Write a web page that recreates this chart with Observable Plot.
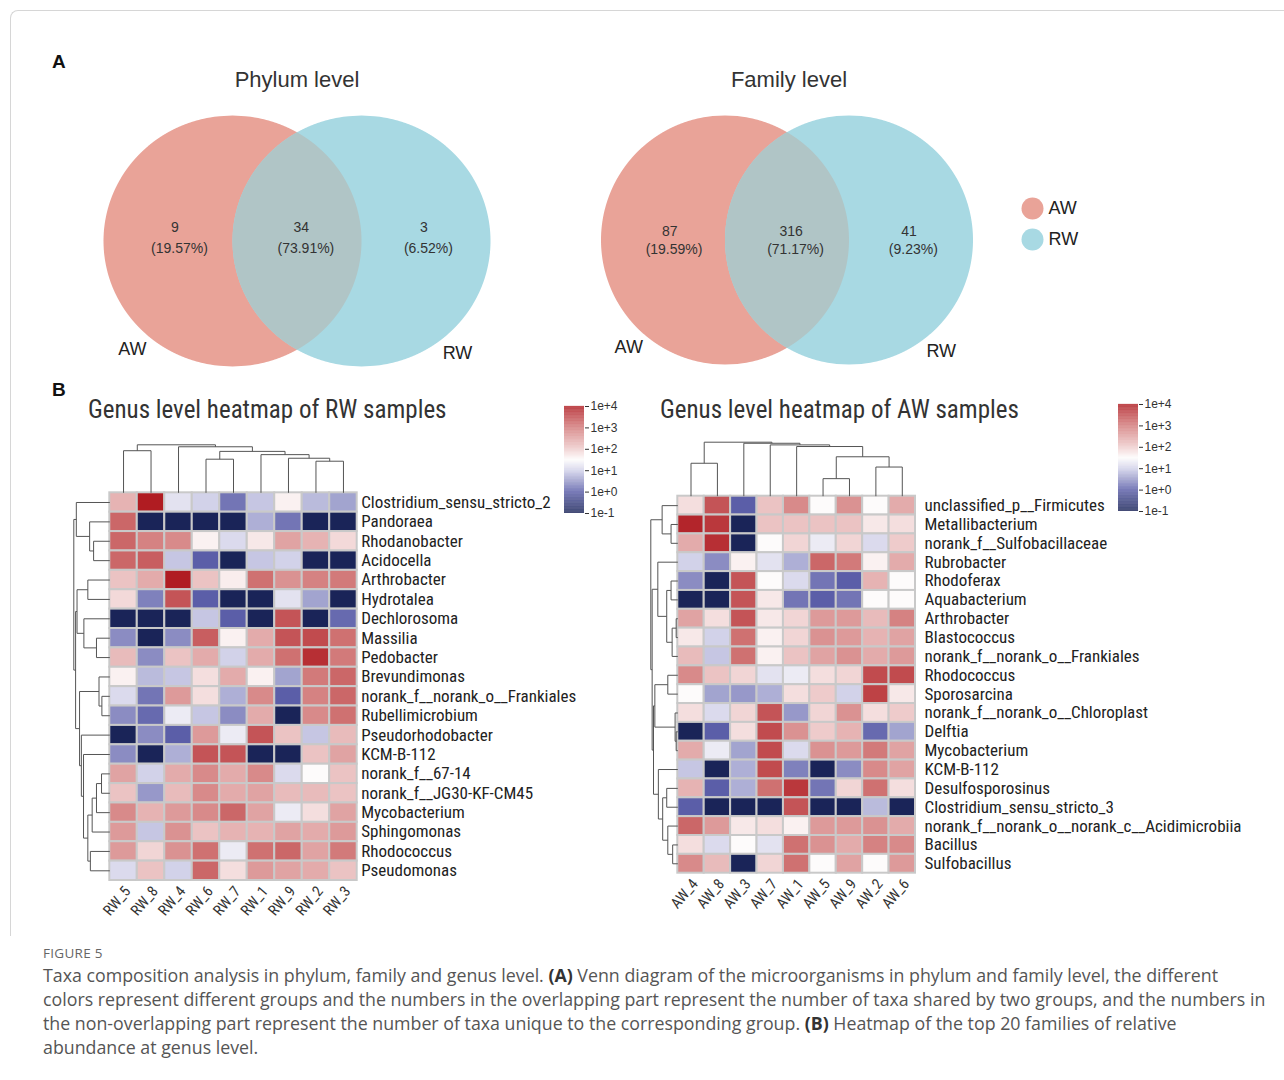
<!DOCTYPE html>
<html>
<head>
<meta charset="utf-8">
<script src="https://cdn.jsdelivr.net/npm/d3@7"></script>
<script src="https://cdn.jsdelivr.net/npm/@observablehq/plot@0.6"></script>
<style>
  body { margin: 0; background: #fff; font-family: "Liberation Sans", Arial, sans-serif; }
  #fig { position: relative; width: 1284px; height: 1080px; overflow: hidden; background: #fff; }
  .abs { position: absolute; }
  .frame { left: 10px; top: 10px; width: 1290px; height: 925px; border-top: 1px solid #d6d6d6; border-left: 1px solid #d6d6d6; border-top-left-radius: 8px; }
  .panel { font-weight: bold; font-size: 19px; color: #111; }
  .vtitle { font-size: 22px; color: #333; transform: translateX(-50%); white-space: nowrap; }
  .htitle { font-family: "Liberation Sans Narrow", "Roboto Condensed", "Liberation Sans", sans-serif; font-size: 25px; color: #333; white-space: nowrap; }
  .figlabel { font-family: "Open Sans", sans-serif; font-size: 13.5px; color: #666; letter-spacing: 0.3px; }
  .caption { font-family: "Open Sans", sans-serif; font-size: 17.8px; line-height: 24px; color: #555; white-space: nowrap; }
  .caption b { color: #333; }
</style>
</head>
<body>
<div id="fig"></div>
<script>
// ---------- Venn counts (AW only, shared, RW only) ----------
const vennGroups = ["AW", "RW"];
const vennColors = ["#e9a398", "#a8d9e3"];
const phylumCounts = [9, 34, 3];
const familyCounts = [87, 316, 41];

// ---------- Genus heatmaps: log10 relative abundance ----------
const rwSamples = ["RW_5", "RW_8", "RW_4", "RW_6", "RW_7", "RW_1", "RW_9", "RW_2", "RW_3"];
const rwGenera = [
  "Clostridium_sensu_stricto_2", "Pandoraea", "Rhodanobacter", "Acidocella", "Arthrobacter",
  "Hydrotalea", "Dechlorosoma", "Massilia", "Pedobacter", "Brevundimonas",
  "norank_f__norank_o__Frankiales", "Rubellimicrobium", "Pseudorhodobacter", "KCM-B-112", "norank_f__67-14",
  "norank_f__JG30-KF-CM45", "Mycobacterium", "Sphingomonas", "Rhodococcus", "Pseudomonas"
];
const rwLog10 = [
  [2.3, 4.0, 1.2, 1.0, 0.2, 0.9, 1.6, 0.8, 0.6],
  [3.2, -1, -1, -1, -1, 0.7, 0.2, -1, -1],
  [3.2, 2.9, 2.8, 1.6, 1.1, 1.7, 2.5, 2.3, 1.85],
  [3.2, 3.3, 0.9, 0.0, -1, 0.9, 1.0, -1, -1],
  [2.1, 2.4, 4.0, 2.1, 1.65, 3.1, 2.7, 2.9, 3.0],
  [1.85, 0.3, 3.4, 0.0, -1, -1, 1.2, 0.6, -1],
  [-1, -1, -1, 0.9, 0.0, -1, 3.4, -1, 0.1],
  [0.4, -1, 0.4, 3.3, 1.6, 2.4, 3.4, 3.5, 3.1],
  [2.2, 0.4, 2.1, 2.4, 1.0, 2.4, 3.1, 3.8, 3.0],
  [1.6, 0.8, 0.9, 1.8, 2.4, 1.6, 0.6, 3.0, 3.2],
  [1.1, 0.2, 2.6, 1.8, 0.7, 2.8, 0.0, 2.9, 3.2],
  [0.4, 0.1, 1.3, 0.9, 0.4, 2.4, -1, 2.8, 3.1],
  [-1, 0.4, 0.0, 2.6, 1.3, 3.4, 2.1, 0.9, 2.2],
  [0.4, -1, 0.7, 3.4, 3.4, -1, -1, 2.1, 2.5],
  [2.5, 1.0, 2.4, 2.8, 2.4, 2.8, 1.1, 1.5, 2.1],
  [2.1, 0.5, 2.2, 2.8, 2.4, 2.5, 2.2, 2.2, 2.1],
  [2.8, 2.3, 2.6, 2.8, 3.2, 2.5, 1.3, 1.8, 2.5],
  [2.6, 0.9, 2.7, 2.1, 2.3, 2.3, 2.5, 2.4, 2.6],
  [2.6, 1.9, 2.7, 3.1, 1.3, 3.1, 3.2, 2.5, 3.0],
  [1.1, 2.1, 1.0, 3.2, 1.8, 2.6, 2.5, 2.4, 2.1]
];

const awSamples = ["AW_4", "AW_8", "AW_3", "AW_7", "AW_1", "AW_5", "AW_9", "AW_2", "AW_6"];
const awGenera = [
  "unclassified_p__Firmicutes", "Metallibacterium", "norank_f__Sulfobacillaceae", "Rubrobacter", "Rhodoferax",
  "Aquabacterium", "Arthrobacter", "Blastococcus", "norank_f__norank_o__Frankiales", "Rhodococcus",
  "Sporosarcina", "norank_f__norank_o__Chloroplast", "Delftia", "Mycobacterium", "KCM-B-112",
  "Desulfosporosinus", "Clostridium_sensu_stricto_3", "norank_f__norank_o__norank_c__Acidimicrobiia", "Bacillus", "Sulfobacillus"
];
const awLog10 = [
  [1.8, 3.4, 0.0, 2.1, 2.8, 1.5, 2.7, 1.5, 2.4],
  [3.9, 3.7, -1, 2.1, 2.1, 2.1, 2.1, 1.7, 1.8],
  [2.4, 3.8, -1, 1.5, 1.9, 1.3, 1.9, 1.1, 2.0],
  [1.0, 0.4, 1.6, 1.2, 0.7, 3.2, 3.0, 1.6, 2.4],
  [0.4, -1, 3.4, 1.5, 1.1, 0.2, 0.0, 2.3, 1.5],
  [-1, -1, 3.4, 1.7, 0.2, 0.0, 0.2, 1.5, 1.5],
  [2.5, 1.8, 3.4, 1.7, 1.9, 2.6, 2.6, 2.2, 2.9],
  [1.7, 1.0, 3.1, 1.6, 1.9, 2.7, 2.6, 2.3, 2.5],
  [2.2, 0.9, 3.1, 1.6, 2.1, 2.5, 2.7, 2.4, 2.6],
  [2.8, 2.1, 1.9, 1.2, 1.3, 1.8, 1.9, 3.5, 3.5],
  [1.5, 0.6, 0.5, 0.7, 1.8, 2.0, 1.0, 3.6, 1.7],
  [1.8, 1.1, 1.9, 3.4, 0.5, 1.9, 2.7, 1.8, 2.0],
  [-1, 0.0, 1.8, 3.5, 2.7, 2.0, 2.3, 0.1, 0.6],
  [2.4, 1.3, 0.6, 3.5, 1.1, 2.7, 2.6, 3.0, 2.5],
  [0.9, -1, 0.7, 3.5, 0.3, -1, 0.4, 2.8, 2.5],
  [2.3, 0.0, 0.7, 3.1, 3.7, 0.2, 1.9, 3.1, 1.8],
  [0.0, -1, -1, -1, 3.4, -1, -1, 0.8, -1],
  [3.2, 2.6, 1.7, 1.8, 1.6, 2.6, 2.6, 2.7, 2.4],
  [1.8, 1.1, 1.5, 1.2, 3.1, 2.7, 2.4, 2.9, 2.8],
  [2.8, 2.2, -1, 1.9, 3.1, 1.5, 2.5, 1.5, 2.6]
];

// Colour bar tick exponents (1e-1 … 1e+4)
const colorTicks = [-1, 0, 1, 2, 3, 4];

// ---------- Hierarchical clustering trees (leaf = position in display order, h = merge height) ----------
const N = (h, a, b) => ({h, children: [a, b]});
const rwColTree = N(1.0, N(0.877, 0, 1), N(0.959, 2, N(0.863, N(0.70, 3, 4), N(0.795, 5, N(0.72, 6, N(0.658, 7, 8))))));
const rwRowTree = N(1.0,
  N(0.93, 0, N(0.56, 1, N(0.45, 2, 3))),
  N(0.95,
    N(0.91, N(0.61, 4, 5), N(0.72, 6, N(0.37, 7, 8))),
    N(0.84, N(0.30, 9, N(0.22, 10, 11)),
      N(0.79, 12, N(0.73, 13, N(0.61, N(0.49, N(0.37, N(0.23, 14, 15), 16), 17), N(0.54, 18, 19)))))));
const awColTree = N(1.0, N(0.61, 0, 1), N(0.98, 2, N(0.95, 3, N(0.92, 4, N(0.73, N(0.325, 5, 6), N(0.54, 7, 8))))));
const awRowTree = N(1.0,
  N(0.58, 0, N(0.25, 1, 2)),
  N(0.95,
    N(0.74, 3, N(0.41, N(0.25, 4, 5), N(0.21, N(0.06, 6, 7), 8))),
    N(0.90,
      N(0.85, N(0.37, 9, 10), N(0.10, 11, N(0.06, 12, 13))),
      N(0.72, 14, N(0.56, N(0.41, 15, 16), N(0.37, 17, N(0.19, 18, 19)))))));

// ---------- shared styling ----------
const colorScale = {
  type: "linear",
  domain: [-1, 0, 1, 1.5, 2, 3, 4],
  range: ["#1a2458", "#5b5ea8", "#d2d2e9", "#fdfbfb", "#eecbcb", "#d27a7a", "#b01c22"],
  clamp: true
};
const narrow = "'Liberation Sans Narrow', 'Roboto Condensed', 'Liberation Sans', sans-serif";
const fig = document.getElementById("fig");

function place(node, left, top) {
  const wrap = document.createElement("div");
  wrap.className = "abs";
  wrap.style.left = left + "px";
  wrap.style.top = top + "px";
  wrap.appendChild(node);
  fig.appendChild(wrap);
  return wrap;
}
function html(cls, text, left, top) {
  const d = document.createElement("div");
  d.className = "abs " + cls;
  d.style.left = left + "px";
  d.style.top = top + "px";
  d.innerHTML = text;
  fig.appendChild(d);
  return d;
}

// ---------- Venn diagram ----------
function venn(counts, {cx, cy, rx, ry, w, h, dyCount, dyPct}) {
  const total = d3.sum(counts);
  const pct = counts.map(c => `(${(c / total * 100).toFixed(2)}%)`);
  const centers = [-0.5, 0.5]; // unit circles, centre distance = radius
  const ys = d3.range(-1, 1.0001, 0.005);
  const disc = c => ys.map(y => ({y, x1: c - Math.sqrt(Math.max(0, 1 - y * y)), x2: c + Math.sqrt(Math.max(0, 1 - y * y))}));
  const lensH = Math.sqrt(1 - 0.25);
  const lens = ys.filter(y => Math.abs(y) <= lensH).map(y => ({y, x1: centers[1] - Math.sqrt(1 - y * y), x2: centers[0] + Math.sqrt(1 - y * y)}));
  const regions = [
    {x: -0.95, n: counts[0], p: pct[0]},
    {x: 0.03, n: counts[1], p: pct[1]},
    {x: 0.98, n: counts[2], p: pct[2]}
  ];
  const setLabels = [
    {x: centers[0] - 0.78, y: -0.86, t: vennGroups[0]},
    {x: centers[1] + 0.74, y: -0.89, t: vennGroups[1]}
  ];
  const hx = w / 2 / rx, hy = h / 2 / ry;
  const plot = Plot.plot({
    width: w, height: h, margin: 0,
    x: {domain: [-hx, hx], axis: null},
    y: {domain: [-hy, hy], axis: null},
    style: {background: "transparent", overflow: "visible", fontFamily: "'Liberation Sans', Arial, sans-serif"},
    marks: [
      Plot.areaX(disc(centers[0]), {y: "y", x1: "x1", x2: "x2", fill: vennColors[0]}),
      Plot.areaX(disc(centers[1]), {y: "y", x1: "x1", x2: "x2", fill: vennColors[1]}),
      Plot.areaX(lens, {y: "y", x1: "x1", x2: "x2", fill: "#b0c5c6"}),
      Plot.text(regions, {x: "x", y: () => 0, text: d => String(d.n), dy: dyCount, fontSize: 14, fill: "#333"}),
      Plot.text(regions, {x: d => d.x + 0.035, y: () => 0, text: "p", dy: dyPct, fontSize: 14, fill: "#333"}),
      Plot.text(setLabels, {x: "x", y: "y", text: "t", fontSize: 18, fill: "#222"})
    ]
  });
  place(plot, cx - w / 2, cy - h / 2);
}

// ---------- Dendrogram segments ----------
function dendro(tree, orient, depth) {
  const segs = [];
  (function walk(n) {
    if (typeof n === "number") return {pos: n + 0.5, h: 0};
    const kids = n.children.map(walk);
    for (const k of kids) segs.push({p1: k.pos, h1: k.h, p2: k.pos, h2: n.h});
    segs.push({p1: kids[0].pos, h1: n.h, p2: kids[1].pos, h2: n.h});
    return {pos: (kids[0].pos + kids[1].pos) / 2, h: n.h};
  })(tree);
  return segs.map(s => orient === "col"
    ? {x1: s.p1, x2: s.p2, y1: -s.h1 * depth, y2: -s.h2 * depth}
    : {y1: s.p1, y2: s.p2, x1: -s.h1 * depth, x2: -s.h2 * depth});
}

// ---------- Clustered heatmap ----------
function heatmap(samples, genera, values, colTree, rowTree, L) {
  const cells = values.flatMap((row, i) => row.map((v, j) => ({row: i, col: j, v})));
  const cellW = (L.width - L.ml - L.mr) / samples.length;
  const cellH = (L.height - L.mt - L.mb) / genera.length;
  const colSegs = dendro(colTree, "col", L.colDepthPx / cellH);
  const rowSegs = dendro(rowTree, "row", L.rowDepthPx / cellW);
  const plot = Plot.plot({
    width: L.width, height: L.height,
    marginLeft: L.ml, marginRight: L.mr, marginTop: L.mt, marginBottom: L.mb,
    x: {domain: [0, samples.length], axis: null},
    y: {domain: [0, genera.length], reverse: true, axis: null},
    color: colorScale,
    style: {background: "transparent", overflow: "visible", fontFamily: narrow},
    marks: [
      Plot.rect(cells, {x1: "col", x2: d => d.col + 1, y1: "row", y2: d => d.row + 1, fill: "v", stroke: "#c9c9c9", strokeWidth: 2}),
      Plot.link(colSegs, {x1: "x1", y1: "y1", x2: "x2", y2: "y2", stroke: "#555", strokeWidth: 1}),
      Plot.link(rowSegs, {x1: "x1", y1: "y1", x2: "x2", y2: "y2", stroke: "#555", strokeWidth: 1}),
      Plot.text(genera, {x: () => samples.length, y: (d, i) => i + 0.5, text: d => d, textAnchor: "start", dx: L.labelDx, fontSize: 17, fill: "#222"}),
      Plot.text(samples, {x: (d, i) => i + 0.5, y: () => genera.length, text: d => d, textAnchor: "end", rotate: -50, dx: 4, dy: 8, fontSize: 15, fill: "#333"})
    ]
  });
  place(plot, L.left, L.top);
}

// ---------- Vertical colour bar ----------
function colorBar(left, top) {
  const step = 0.02;
  const stops = d3.range(-1, 4, step);
  const plot = Plot.plot({
    width: 80, height: 127,
    marginLeft: 9, marginRight: 51, marginTop: 10, marginBottom: 10,
    x: {domain: [0, 1], axis: null},
    y: {domain: [-1, 4], axis: "right", ticks: colorTicks, tickFormat: d => "1e" + (d >= 0 ? "+" : "") + d, tickSize: 4, tickPadding: 2, label: null},
    color: colorScale,
    style: {background: "transparent", overflow: "visible", fontFamily: "'Liberation Sans', Arial, sans-serif", fontSize: "12px", color: "#333"},
    marks: [
      Plot.rect(stops, {x1: () => 0, x2: () => 1, y1: d => d, y2: d => d + step + 0.005, fill: d => d + step / 2})
    ]
  });
  place(plot, left, top);
}

// ---------- layout ----------
html("frame", "", 10, 10);
html("panel", "A", 52, 51);
html("panel", "B", 52, 379);
html("vtitle", "Phylum level", 297, 67);
html("vtitle", "Family level", 789, 67);

venn(phylumCounts, {cx: 296.5, cy: 240.5, rx: 129, ry: 125.5, w: 460, h: 280, dyCount: -14, dyPct: 7});
venn(familyCounts, {cx: 787, cy: 240, rx: 124, ry: 124.5, w: 460, h: 280, dyCount: -9, dyPct: 9});

// group legend
const legendPlot = Plot.plot({
  width: 80, height: 94, marginLeft: 17, marginRight: 50, marginTop: 16, marginBottom: 16,
  x: {domain: [0, 1], axis: null},
  y: {type: "point", domain: vennGroups, padding: 0.5, axis: null},
  style: {background: "transparent", overflow: "visible", fontFamily: "'Liberation Sans', Arial, sans-serif"},
  marks: [
    Plot.dot(vennGroups, {x: () => 0, y: d => d, r: 11, fill: (d, i) => vennColors[i], stroke: null}),
    Plot.text(vennGroups, {x: () => 0, y: d => d, text: d => d, dx: 16, textAnchor: "start", fontSize: 18, fill: "#222"})
  ]
});
place(legendPlot, 1015, 175.5);

html("htitle", "Genus level heatmap of RW samples", 88, 395);
html("htitle", "Genus level heatmap of AW samples", 660, 395);

heatmap(rwSamples, rwGenera, rwLog10, rwColTree, rwRowTree,
  {left: 60, top: 430, width: 540, height: 500, ml: 49.3, mr: 243.3, mt: 62.3, mb: 50, colDepthPx: 48, rowDepthPx: 36, labelDx: 4});
heatmap(awSamples, awGenera, awLog10, awColTree, awRowTree,
  {left: 630, top: 430, width: 640, height: 500, ml: 47.3, mr: 355, mt: 65.7, mb: 57.3, colDepthPx: 54, rowDepthPx: 27, labelDx: 9});

colorBar(555, 396);
colorBar(1109, 394);

html("figlabel", "FIGURE 5", 43, 944);
html("caption",
  "Taxa composition analysis in phylum, family and genus level. <b>(A)</b> Venn diagram of the microorganisms in phylum and family level, the different<br>" +
  "colors represent different groups and the numbers in the overlapping part represent the number of taxa shared by two groups, and the numbers in<br>" +
  "the non-overlapping part represent the number of taxa unique to the corresponding group. <b>(B)</b> Heatmap of the top 20 families of relative<br>" +
  "abundance at genus level.", 43, 963);
</script>
</body>
</html>
